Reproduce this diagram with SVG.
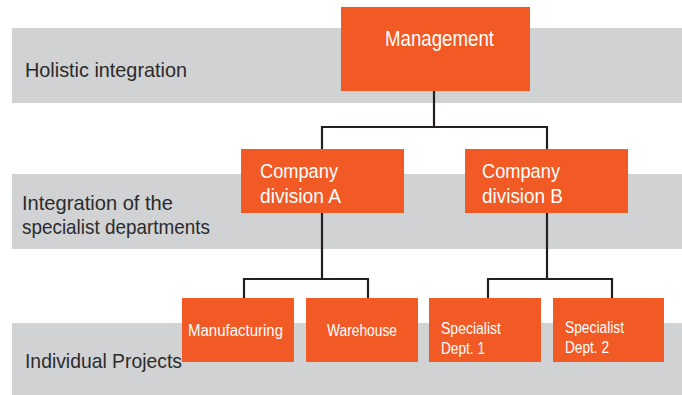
<svg xmlns="http://www.w3.org/2000/svg" width="682" height="395" viewBox="0 0 682 395">
<style>
.band{fill:#d1d2d4}
.box{fill:#f15a24}
.lbl{font-family:"Liberation Sans",Arial,sans-serif;fill:#2b2b2b}
.nt{font-family:"Liberation Sans",Arial,sans-serif;fill:#ffffff}
.con{stroke:#231f20;stroke-width:2.2;fill:none}
</style>
<rect width="682" height="395" fill="#ffffff"/>
<g id="bands">
<rect class="band" x="12" y="28" width="670" height="75"/>
<rect class="band" x="12" y="174" width="670" height="75"/>
<rect class="band" x="12" y="323" width="670" height="72"/>
<text class="lbl" x="25" y="77" font-size="21" textLength="162" lengthAdjust="spacingAndGlyphs">Holistic integration</text>
<text class="lbl" x="22" y="210" font-size="21" textLength="151" lengthAdjust="spacingAndGlyphs">Integration of the</text>
<text class="lbl" x="22" y="234" font-size="21" textLength="188" lengthAdjust="spacingAndGlyphs">specialist departments</text>
<text class="lbl" x="25" y="368" font-size="21" textLength="157" lengthAdjust="spacingAndGlyphs">Individual Projects</text>
</g>
<g id="connectors">
<polyline class="con" points="434,91 434,127"/>
<polyline class="con" points="322,149 322,127 547,127 547,149"/>
<polyline class="con" points="322,212 322,279"/>
<polyline class="con" points="244,298 244,279 368,279 368,298"/>
<polyline class="con" points="547,212 547,279"/>
<polyline class="con" points="488,298 488,279 612,279 612,298"/>
</g>
<g id="management">
<rect class="box" x="341" y="7" width="189" height="84"/>
<text class="nt" x="385" y="46" font-size="22.5" textLength="109" lengthAdjust="spacingAndGlyphs">Management</text>
</g>
<g id="divisionA">
<rect class="box" x="241" y="149" width="163" height="64"/>
<text class="nt" x="260" y="178" font-size="20" textLength="78" lengthAdjust="spacingAndGlyphs">Company</text>
<text class="nt" x="260" y="203" font-size="20" textLength="81" lengthAdjust="spacingAndGlyphs">division A</text>
</g>
<g id="divisionB">
<rect class="box" x="465" y="149" width="163" height="64"/>
<text class="nt" x="482" y="178" font-size="20" textLength="78" lengthAdjust="spacingAndGlyphs">Company</text>
<text class="nt" x="482" y="203" font-size="20" textLength="81" lengthAdjust="spacingAndGlyphs">division B</text>
</g>
<g id="manufacturing">
<rect class="box" x="182" y="298" width="112" height="64"/>
<text class="nt" x="188" y="336" font-size="16" textLength="95" lengthAdjust="spacingAndGlyphs">Manufacturing</text>
</g>
<g id="warehouse">
<rect class="box" x="306" y="298" width="112" height="64"/>
<text class="nt" x="327" y="336" font-size="16" textLength="70" lengthAdjust="spacingAndGlyphs">Warehouse</text>
</g>
<g id="specialist1">
<rect class="box" x="429" y="298" width="112" height="64"/>
<text class="nt" x="441" y="334" font-size="16" textLength="60" lengthAdjust="spacingAndGlyphs">Specialist</text>
<text class="nt" x="441" y="354" font-size="16" textLength="44" lengthAdjust="spacingAndGlyphs">Dept. 1</text>
</g>
<g id="specialist2">
<rect class="box" x="553" y="298" width="111" height="64"/>
<text class="nt" x="565" y="333" font-size="16" textLength="59" lengthAdjust="spacingAndGlyphs">Specialist</text>
<text class="nt" x="565" y="353" font-size="16" textLength="44" lengthAdjust="spacingAndGlyphs">Dept. 2</text>
</g>
</svg>
